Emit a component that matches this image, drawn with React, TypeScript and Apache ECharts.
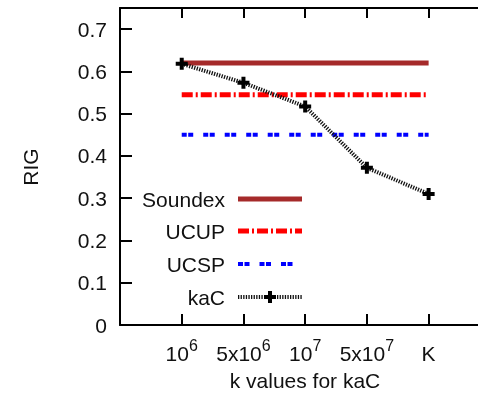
import React, { useEffect, useRef } from "react";
import * as echarts from "echarts";

const xTickValues = [0, 1, 2, 3, 4];
const xTickBase = ["10", "5x10", "10", "5x10", "K"];
const xTickSup = ["6", "6", "7", "7", ""];
const yTickValues = [0, 0.1, 0.2, 0.3, 0.4, 0.5, 0.6, 0.7];
const soundexValue = 0.62;
const ucupValue = 0.545;
const ucspValue = 0.45;
const kacValues = [0.618, 0.573, 0.517, 0.372, 0.31];
const legendNames = ["Soundex", "UCUP", "UCSP", "kaC"];

const FONT = "Liberation Sans, Arial, sans-serif";
const PLUS = "path://M4,0H8V4H12V8H8V12H4V8H0V4H4Z";

export default function App() {
  const ref = useRef<HTMLDivElement>(null);
  useEffect(() => {
    if (!ref.current) return;
    const chart = echarts.init(ref.current, null, { renderer: "svg" });
    const first = xTickValues[0];
    const last = xTickValues[xTickValues.length - 1];
    const legendY = [199, 231, 264, 297];
    const lx0 = 238, lx1 = 302;
    const legendStyles: any[] = [
      { stroke: "#a52a2a", lineWidth: 5 },
      { stroke: "#ff0000", lineWidth: 5, lineDash: [11, 3, 2, 3] },
      { stroke: "#0000ff", lineWidth: 4, lineDash: [5, 1.5, 5, 10] },
      { stroke: "#111", lineWidth: 4, lineDash: [1.3, 1.3] },
    ];
    const graphics: any[] = [];
    legendNames.forEach((n, i) => {
      graphics.push({
        type: "text",
        x: 225,
        y: legendY[i],
        style: { text: n, font: `21px ${FONT}`, fill: "#111", align: "right", verticalAlign: "middle" },
      });
      graphics.push({
        type: "line",
        shape: { x1: lx0, y1: legendY[i], x2: lx1, y2: legendY[i] },
        style: legendStyles[i],
      });
    });
    const cx = 270, cy = legendY[3];
    graphics.push({
      type: "polygon",
      shape: {
        points: [
          [cx - 2, cy - 6], [cx + 2, cy - 6], [cx + 2, cy - 2], [cx + 6, cy - 2], [cx + 6, cy + 2],
          [cx + 2, cy + 2], [cx + 2, cy + 6], [cx - 2, cy + 6], [cx - 2, cy + 2], [cx - 6, cy + 2],
          [cx - 6, cy - 2], [cx - 2, cy - 2],
        ],
      },
      style: { fill: "#000" },
    });
    graphics.push({
      type: "text",
      x: 30,
      y: 167,
      rotation: Math.PI / 2,
      style: { text: "RIG", font: `21px ${FONT}`, fill: "#111", align: "center", verticalAlign: "middle" },
    });
    graphics.push({
      type: "text",
      x: 305,
      y: 380,
      style: { text: "k values for kaC", font: `21px ${FONT}`, fill: "#111", align: "center", verticalAlign: "middle" },
    });

    const axisLine = { show: true, onZero: false, lineStyle: { color: "#000", width: 2 } };
    chart.setOption({
      animation: false,
      grid: { left: 120, right: 0, top: 8, bottom: 68 },
      xAxis: [
        {
          type: "value",
          position: "bottom",
          min: -1,
          max: 4.8,
          axisLine,
          splitLine: { show: false },
          axisTick: { show: true, inside: true, length: 11, customValues: xTickValues, lineStyle: { color: "#000", width: 2 } },
          axisLabel: {
            customValues: xTickValues,
            margin: 12,
            formatter: (v: number) => {
              const i = xTickValues.indexOf(Math.round(v));
              if (i < 0) return "";
              return xTickSup[i] ? `{b|${xTickBase[i]}}{s|${xTickSup[i]}}` : `{b|${xTickBase[i]}}`;
            },
            rich: {
              b: { fontSize: 21, fontFamily: FONT, color: "#111", lineHeight: 27, verticalAlign: "bottom" },
              s: { fontSize: 16, fontFamily: FONT, color: "#111", lineHeight: 16, verticalAlign: "top" },
            },
          },
        },
        {
          type: "value",
          position: "top",
          min: -1,
          max: 4.8,
          axisLine,
          splitLine: { show: false },
          axisTick: { show: true, inside: true, length: 10, customValues: xTickValues, lineStyle: { color: "#000", width: 2 } },
          axisLabel: { show: false },
        },
      ],
      yAxis: {
        type: "value",
        min: 0,
        max: 0.75,
        axisLine,
        splitLine: { show: false },
        axisTick: { show: true, inside: true, length: 12, customValues: yTickValues, lineStyle: { color: "#000", width: 2 } },
        axisLabel: {
          customValues: yTickValues,
          margin: 13,
          fontSize: 21,
          fontFamily: FONT,
          color: "#111",
          formatter: (v: number) => (v === 0 ? "0" : v.toFixed(1)),
        },
      },
      series: [
        {
          name: legendNames[0],
          type: "line",
          data: [[first, soundexValue], [last, soundexValue]],
          showSymbol: false,
          lineStyle: { color: "#a52a2a", width: 5 },
        },
        {
          name: legendNames[1],
          type: "line",
          data: [[first, ucupValue], [last, ucupValue]],
          showSymbol: false,
          lineStyle: { color: "#ff0000", width: 5, type: [11, 3, 2, 3] },
        },
        {
          name: legendNames[2],
          type: "line",
          data: [[first, ucspValue], [last, ucspValue]],
          showSymbol: false,
          lineStyle: { color: "#0000ff", width: 4, type: [5, 1.5, 5, 10] },
        },
        {
          name: legendNames[3],
          type: "line",
          data: xTickValues.map((x, i) => [x, kacValues[i]]),
          symbol: PLUS,
          symbolSize: 12,
          itemStyle: { color: "#000" },
          lineStyle: { color: "#111", width: 4, type: [1.3, 1.3] },
        },
      ],
      graphic: graphics,
    });
    return () => chart.dispose();
  }, []);
  return <div ref={ref} style={{ position: "fixed", left: 0, top: 0, width: 478, height: 393 }} />;
}
